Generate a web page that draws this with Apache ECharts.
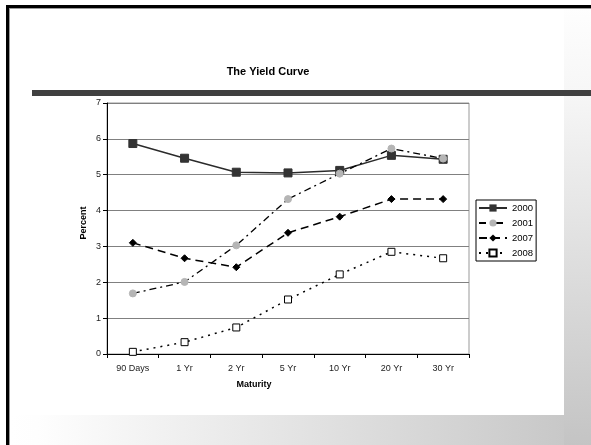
<!DOCTYPE html>
<html>
<head>
<meta charset="utf-8">
<script src="https://cdn.jsdelivr.net/npm/echarts@6/dist/echarts.min.js"></script>
<style>
  html, body { margin: 0; padding: 0; background: #fff; }
  #chart { width: 591px; height: 445px; }
</style>
</head>
<body>
<div id="chart"></div>
<script>
// Yield curve data (percent)
const maturities = ['90 Days', '1 Yr', '2 Yr', '5 Yr', '10 Yr', '20 Yr', '30 Yr'];
const yields2000 = [5.87, 5.46, 5.07, 5.05, 5.12, 5.54, 5.43];
const yields2001 = [1.69, 2.01, 3.03, 4.32, 5.03, 5.73, 5.45];
const yields2007 = [3.10, 2.67, 2.42, 3.38, 3.83, 4.32, 4.32];
const yields2008 = [0.06, 0.33, 0.74, 1.52, 2.22, 2.85, 2.67];
const percentTicks = [0, 1, 2, 3, 4, 5, 6, 7];

const chart = echarts.init(document.getElementById('chart'), null, { renderer: 'canvas' });

const font = 'Liberation Sans, Arial, sans-serif';

// slide frame: grey shadow strips, black border, dark rule under the title
const frame = [
    {
        type: 'rect', z: -20,
        shape: { x: 564, y: 8, width: 27, height: 437 },
        style: {
            fill: new echarts.graphic.LinearGradient(0, 0, 0, 1, [
                { offset: 0, color: '#fefefe' },
                { offset: 0.2, color: '#f6f6f6' },
                { offset: 1, color: '#c4c4c4' }
            ])
        }
    },
    {
        type: 'rect', z: -20,
        shape: { x: 9, y: 415, width: 555, height: 30 },
        style: {
            fill: new echarts.graphic.LinearGradient(0, 0, 1, 0, [
                { offset: 0, color: '#ffffff' },
                { offset: 0.05, color: '#fefefe' },
                { offset: 1, color: '#c8c8c8' }
            ])
        }
    },
    { type: 'rect', z: 10, shape: { x: 6, y: 5, width: 3, height: 440 }, style: { fill: '#000' } },
    { type: 'rect', z: 10, shape: { x: 6, y: 5, width: 585, height: 3 }, style: { fill: '#000' } },
    { type: 'rect', z: 10, shape: { x: 9, y: 8, width: 1, height: 437 }, style: { fill: '#9a9a9a' } },
    { type: 'rect', z: 10, shape: { x: 9, y: 8, width: 582, height: 1 }, style: { fill: '#9a9a9a' } },
    { type: 'rect', z: 10, shape: { x: 32, y: 90, width: 559, height: 6 }, style: { fill: '#404040' } },
    {
        type: 'text', z: 10, x: 268, y: 72,
        style: {
            text: 'The Yield Curve', fill: '#000', align: 'center', verticalAlign: 'middle',
            font: 'bold 11px ' + font
        }
    },
    {
        type: 'text', z: 10, x: 254, y: 385,
        style: {
            text: 'Maturity', fill: '#000', align: 'center', verticalAlign: 'middle',
            font: 'bold 9px ' + font
        }
    },
    {
        type: 'text', z: 10, x: 84, y: 223, rotation: Math.PI / 2,
        style: {
            text: 'Percent', fill: '#000', align: 'center', verticalAlign: 'middle',
            font: 'bold 9px ' + font
        }
    }
];

chart.setOption({
    backgroundColor: '#fff',
    animation: false,
    textStyle: { fontFamily: font },
    graphic: { elements: frame },
    grid: {
        left: 107, top: 103, right: 122, bottom: 91,
        show: true, borderColor: '#999', borderWidth: 1, backgroundColor: 'transparent'
    },
    legend: {
        orient: 'vertical',
        left: 476, top: 200,
        backgroundColor: '#fff',
        borderColor: '#000', borderWidth: 1,
        padding: [3, 3, 3, 2],
        itemGap: 5,
        itemWidth: 28, itemHeight: 9,
        textStyle: { fontSize: 9.5, color: '#000' },
        data: ['2000', '2001', '2007', '2008']
    },
    xAxis: {
        type: 'category',
        data: maturities,
        boundaryGap: true,
        axisLine: { lineStyle: { color: '#000', width: 1 } },
        axisTick: { show: true, alignWithLabel: false, length: 4, lineStyle: { color: '#000' } },
        axisLabel: { fontSize: 9, color: '#222', margin: 10 },
        splitLine: { show: false }
    },
    yAxis: {
        type: 'value',
        min: percentTicks[0],
        max: percentTicks[percentTicks.length - 1],
        interval: 1,
        axisLine: { show: true, lineStyle: { color: '#000', width: 1 } },
        axisTick: { show: true, length: 4, lineStyle: { color: '#000' } },
        axisLabel: { fontSize: 9, color: '#222', margin: 6 },
        splitLine: { lineStyle: { color: '#808080', width: 1 } }
    },
    series: [
        {
            name: '2000', type: 'line', data: yields2000,
            symbol: 'rect', symbolSize: 8,
            lineStyle: { color: '#2b2b2b', width: 1.5, type: 'solid' },
            itemStyle: { color: '#333', borderColor: '#333' }
        },
        {
            name: '2001', type: 'line', data: yields2001,
            symbol: 'circle', symbolSize: 7,
            lineStyle: { color: '#000', width: 1.3, type: [7, 4, 2, 4] },
            itemStyle: { color: '#b5b5b5', borderColor: '#b5b5b5' }
        },
        {
            name: '2007', type: 'line', data: yields2007,
            symbol: 'diamond', symbolSize: 7,
            lineStyle: { color: '#000', width: 1.5, type: [8, 5] },
            itemStyle: { color: '#000', borderColor: '#000' }
        },
        {
            name: '2008', type: 'line', data: yields2008,
            symbol: 'rect', symbolSize: 7,
            lineStyle: { color: '#000', width: 1.5, type: [2, 5] },
            itemStyle: { color: '#fff', borderColor: '#000', borderWidth: 1 }
        }
    ]
});
</script>
</body>
</html>
